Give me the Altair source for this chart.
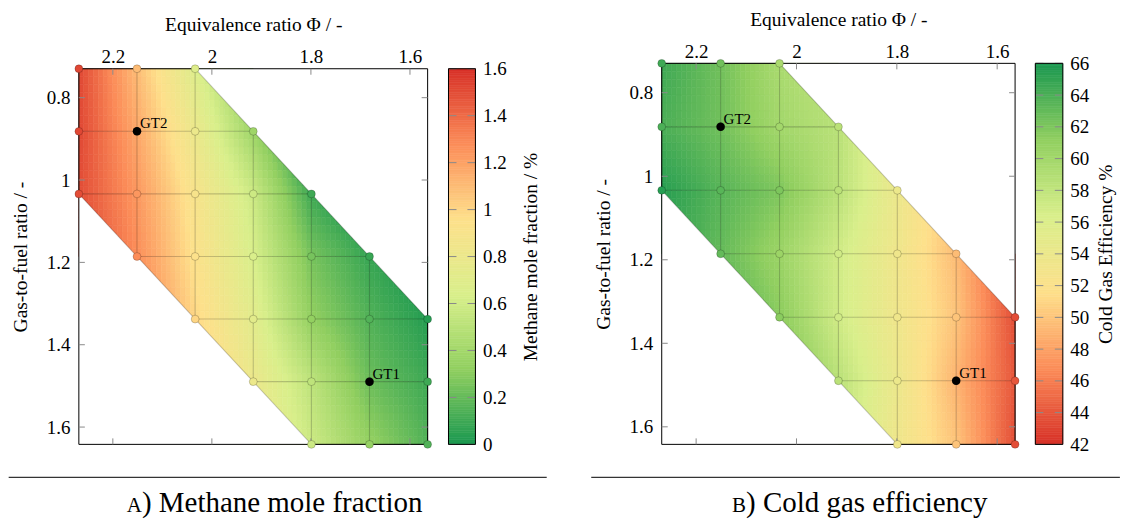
import altair as alt
import pandas as pd

# ---------------- data ----------------
PHI = [2.2686, 2.1512, 2.0338, 1.9164, 1.7990, 1.6817, 1.5643]   # equivalence ratio grid
GTF = [0.7297, 0.8817, 1.0337, 1.1857, 1.3377, 1.4897, 1.6420]   # gas-to-fuel ratio grid
N = None
CH4 = [  # methane mole fraction / %   rows = GTF, cols = PHI
    [1.52, 1.10, 0.68, N, N, N, N],
    [1.52, 1.18, 0.80, 0.38, N, N, N],
    [1.50, 1.24, 0.90, 0.58, 0.10, N, N],
    [N, 1.28, 0.94, 0.64, 0.25, 0.08, N],
    [N, N, 1.00, 0.72, 0.33, 0.15, 0.03],
    [N, N, N, 0.80, 0.52, 0.22, 0.10],
    [N, N, N, N, 0.58, 0.34, 0.15],
]
CGE = [  # cold gas efficiency / %
    [64.5, 62.5, 59.5, N, N, N, N],
    [64.0, 62.5, 60.0, 58.5, N, N, N],
    [65.5, 63.5, 62.0, 58.5, 54.0, N, N],
    [N, 63.0, 60.5, 57.0, 53.5, 49.5, N],
    [N, N, 61.5, 57.0, 53.5, 50.0, 43.5],
    [N, N, N, 58.5, 54.0, 49.0, 44.0],
    [N, N, N, N, 53.5, 50.0, 43.5],
]
GT_NAME = ["GT1", "GT2"]
GT_PHI = [1.6817, 2.1512]
GT_GTF = [1.4897, 0.8817]
X_TICKS = [2.2, 2.0, 1.8, 1.6]
Y_TICKS = [0.8, 1.0, 1.2, 1.4, 1.6]
CH4_TICKS = [0, 0.2, 0.4, 0.6, 0.8, 1.0, 1.2, 1.4, 1.6]
CGE_TICKS = [42, 44, 46, 48, 50, 52, 54, 56, 58, 60, 62, 64, 66]
RDYLGN = ["#d73027", "#fc8d59", "#fee08b", "#d9ef8b", "#91cf60", "#1a9850"]

FONT = "Liberation Serif"
NX, NY = 12, 8
H = 381.7


def cells_table(vals):
    rows = []
    n = len(PHI)
    for i in range(n - 1):
        for j in range(n - 1):
            c = [vals[i][j], vals[i][j + 1], vals[i + 1][j], vals[i + 1][j + 1]]
            if all(v is not None for v in c):
                kind = 0
            elif i - j == 2:
                kind = 1
            elif j - i == 2:
                kind = 2
            else:
                continue
            c = [0.0 if v is None else v for v in c]
            rows.append(dict(v00=c[0], v01=c[1], v10=c[2], v11=c[3], kind=kind,
                             x0=PHI[j], x1=PHI[j + 1], y0=GTF[i], y1=GTF[i + 1]))
    return pd.DataFrame(rows)


def points_table(vals):
    rows = []
    for i, g in enumerate(GTF):
        for j, p in enumerate(PHI):
            if vals[i][j] is not None:
                rows.append(dict(phi=p, gtf=g, v=vals[i][j]))
    return pd.DataFrame(rows)


def segments_table(vals):
    rows = []
    n = len(PHI)
    ok = lambda i, j: 0 <= i < n and 0 <= j < n and vals[i][j] is not None
    for i in range(n):
        for j in range(n):
            if not ok(i, j):
                continue
            for di, dj in [(0, 1), (1, 0), (1, 1)]:
                if ok(i + di, j + dj):
                    if (di, dj) == (1, 1) and abs(i - j) != 2:
                        continue
                    rows.append(dict(xa=PHI[j], ya=GTF[i], xb=PHI[j + dj], yb=GTF[i + di]))
    return pd.DataFrame(rows)


def panel(vals, cdom, crange, W, top, xlab_pad, xtitle_y, cap_small, cap_rest,
          cap_split, cap_x1, cap_x2, anchor=False):
    xs = alt.Scale(domain=[PHI[0], PHI[-1]], nice=False, zero=False)
    ys = alt.Scale(domain=[GTF[0], GTF[-1]], range=[top, H], nice=False, zero=False)
    cs = alt.Scale(domain=cdom, range=crange, interpolate="rgb", clamp=True)
    xaxis = alt.Axis(orient="top", values=X_TICKS, format="~g", domain=False, ticks=False,
                     tickSize=0, grid=False, labelPadding=xlab_pad, labelBaseline="middle",
                     title="Equivalence ratio Φ / -", titleY=xtitle_y, titleBaseline="middle")
    yaxis = alt.Axis(orient="left", values=Y_TICKS, format="~g", domain=False, ticks=False,
                     tickSize=0, grid=False, labelPadding=9,
                     title="Gas-to-fuel ratio / -", titleX=-58, titleY=(top + H) / 2,
                     titleBaseline="middle", titleAlign="center", titleAngle=270)

    def X(f):
        return alt.X(f, scale=xs, axis=xaxis)

    def Y(f):
        return alt.Y(f, scale=ys, axis=yaxis)

    raster = (
        alt.Chart(cells_table(vals))
        .transform_calculate(u=f"sequence(0,{NX})").transform_flatten(["u"])
        .transform_calculate(w=f"sequence(0,{NY})").transform_flatten(["w"])
        .transform_calculate(fx=f"(datum.u+0.5)/{NX}")
        .transform_calculate(fy=f"(datum.w+0.5)/{NY}")
        .transform_calculate(val=(
            "datum.kind==0 ? datum.v00*(1-datum.fx)*(1-datum.fy)+datum.v01*datum.fx*(1-datum.fy)"
            "+datum.v10*(1-datum.fx)*datum.fy+datum.v11*datum.fx*datum.fy"
            " : (datum.kind==1 ? datum.v00+(datum.v01-datum.v00)*datum.fx+(datum.v11-datum.v01)*datum.fy"
            " : datum.v00+(datum.v10-datum.v00)*datum.fy+(datum.v11-datum.v10)*datum.fx)"))
        .transform_calculate(xa=f"datum.x0+(datum.x1-datum.x0)*datum.u/{NX}")
        .transform_calculate(xb=f"datum.x0+(datum.x1-datum.x0)*(datum.u+1)/{NX}")
        .transform_calculate(ya=f"datum.y0+(datum.y1-datum.y0)*datum.w/{NY}")
        .transform_calculate(yb=f"datum.y0+(datum.y1-datum.y0)*(datum.w+1)/{NY}")
        .mark_rect(strokeWidth=0.6)
        .encode(
            x=X("xa:Q"), x2="xb:Q", y=Y("ya:Q"), y2="yb:Q",
            fill=alt.Fill("val:Q", scale=cs, legend=None),
            stroke=alt.Stroke("val:Q", scale=cs, legend=None),
        )
    )

    n = len(PHI)
    mask_df = pd.DataFrame([
        dict(m="tr", x=PHI[2], y=GTF[0], y2=GTF[0]),
        dict(m="tr", x=PHI[n - 1], y=GTF[4], y2=GTF[0]),
        dict(m="bl", x=PHI[0], y=GTF[2], y2=GTF[n - 1]),
        dict(m="bl", x=PHI[4], y=GTF[n - 1], y2=GTF[n - 1]),
    ])
    masks = alt.Chart(mask_df).mark_area(color="white", opacity=1).encode(
        x=X("x:Q"), y=Y("y:Q"), y2="y2:Q", detail="m:N")

    grid = alt.Chart(segments_table(vals)).mark_rule(
        color="black", strokeOpacity=0.2, strokeWidth=1.1).encode(
        x=X("xa:Q"), x2="xb:Q", y=Y("ya:Q"), y2="yb:Q")

    one = pd.DataFrame({"a": [0]})
    frame = alt.Chart(one).mark_rect(filled=False, stroke="black", strokeWidth=1).encode(
        x=alt.value(0), x2=alt.value(W), y=alt.value(top), y2=alt.value(H))

    xt = pd.DataFrame({"t": X_TICKS})
    yt = pd.DataFrame({"t": Y_TICKS})
    tick_style = dict(color="#8a8a8a", strokeWidth=1)
    ticks = [
        alt.Chart(xt).mark_rule(**tick_style).encode(
            x=X("t:Q"), y=alt.value(top), y2=alt.value(top + 6)),
        alt.Chart(xt).mark_rule(**tick_style).encode(
            x=X("t:Q"), y=alt.value(H), y2=alt.value(H - 6)),
        alt.Chart(yt).mark_rule(**tick_style).encode(
            y=Y("t:Q"), x=alt.value(0), x2=alt.value(6)),
        alt.Chart(yt).mark_rule(**tick_style).encode(
            y=Y("t:Q"), x=alt.value(W), x2=alt.value(W - 6)),
    ]

    pts = alt.Chart(points_table(vals)).mark_circle(
        size=62, opacity=1, stroke="black", strokeOpacity=0.25, strokeWidth=0.8).encode(
        x=X("phi:Q"), y=Y("gtf:Q"), fill=alt.Fill("v:Q", scale=cs, legend=None))

    gt_df = pd.DataFrame({"name": GT_NAME, "phi": GT_PHI, "gtf": GT_GTF})
    gt = alt.Chart(gt_df).mark_circle(size=72, color="black", opacity=1).encode(
        x=X("phi:Q"), y=Y("gtf:Q"))
    gt_lab = alt.Chart(gt_df).mark_text(
        align="left", baseline="middle", dx=3, dy=-8, font=FONT, fontSize=15, color="black"
    ).encode(x=X("phi:Q"), y=Y("gtf:Q"), text="name:N")

    cap_line = alt.Chart(one).mark_rule(color="black", strokeWidth=1).encode(
        x=alt.value(cap_x1), x2=alt.value(cap_x2), y=alt.value(414.7))
    cap_a = alt.Chart(one).mark_text(
        text=cap_small, align="right", baseline="alphabetic", font=FONT, fontSize=21,
        color="black").encode(x=alt.value(cap_split), y=alt.value(449.7))
    cap_b = alt.Chart(one).mark_text(
        text=cap_rest, align="left", baseline="alphabetic", font=FONT, fontSize=29,
        color="black").encode(x=alt.value(cap_split), y=alt.value(449.7))

    layers = [raster, masks, grid, frame] + ticks + [pts, gt, gt_lab, cap_line, cap_a, cap_b]
    if anchor:
        layers.append(alt.Chart(one).mark_rule(strokeOpacity=0, color="white").encode(
            x=alt.value(-78.3), x2=alt.value(1121 - 78.3),
            y=alt.value(-62.3), y2=alt.value(522 - 62.3)))
    return alt.layer(*layers).properties(width=W, height=H)


def colorbar(dmin, dmax, cdom, crange, ticks, title, W, top, title_x):
    nstep = 160
    step = (dmax - dmin) / nstep
    ys = alt.Scale(domain=[dmin, dmax], range=[H, top], nice=False, zero=False)
    cs = alt.Scale(domain=cdom, range=crange, interpolate="rgb", clamp=True)
    axis = alt.Axis(orient="right", values=ticks, format="~g", domain=False, ticks=False,
                    tickSize=0, grid=False, labelPadding=7, labelBaseline="middle",
                    title=title, titleAngle=270, titleX=title_x, titleY=(top + H) / 2,
                    titleBaseline="middle", titleAlign="center")
    bar = (
        alt.Chart(alt.sequence(0, nstep, as_="k"))
        .transform_calculate(lo=f"{dmin}+datum.k*{step}")
        .transform_calculate(hi=f"datum.lo+{step}")
        .transform_calculate(mid=f"datum.lo+{step / 2}")
        .mark_rect(strokeWidth=0.6)
        .encode(
            y=alt.Y("lo:Q", scale=ys, axis=axis), y2="hi:Q",
            x=alt.value(0), x2=alt.value(W),
            fill=alt.Fill("mid:Q", scale=cs, legend=None),
            stroke=alt.Stroke("mid:Q", scale=cs, legend=None),
        )
    )
    tdf = pd.DataFrame({"t": ticks})
    tl = alt.Chart(tdf).mark_rule(color="#8a8a8a", strokeWidth=1).encode(
        y=alt.Y("t:Q", scale=ys, axis=axis), x=alt.value(0), x2=alt.value(8))
    tr = alt.Chart(tdf).mark_rule(color="#8a8a8a", strokeWidth=1).encode(
        y=alt.Y("t:Q", scale=ys, axis=axis), x=alt.value(W - 8), x2=alt.value(W))
    one = pd.DataFrame({"a": [0]})
    frame = alt.Chart(one).mark_rect(filled=False, stroke="black", strokeWidth=1).encode(
        x=alt.value(0), x2=alt.value(W), y=alt.value(top), y2=alt.value(H))
    return alt.layer(bar, tl, tr, frame).properties(width=W, height=H)


ch4_dom = [0, 0.32, 0.64, 0.96, 1.28, 1.6]
ch4_rng = list(reversed(RDYLGN))
cge_dom = [42, 46.8, 51.6, 56.4, 61.2, 66]
cge_rng = RDYLGN

panelA = panel(CH4, ch4_dom, ch4_rng, 349.4, 5.4, 6.6, -38.6, "A",
               ") Methane mole fraction", 63.2, -70.3, 468.7, anchor=True)
cbarA = colorbar(0, 1.6, ch4_dom, ch4_rng, CH4_TICKS, "Methane mole fraction / %",
                 27, 5.4, 55)
spacer = alt.Chart(pd.DataFrame({"a": [0]})).mark_point(opacity=0).encode(
    x=alt.value(0), y=alt.value(0)).properties(width=145.4, height=H)
panelB = panel(CGE, cge_dom, cge_rng, 354, 0, 12, -44, "B",
               ") Cold gas efficiency", 84.5, -70.6, 459)
cbarB = colorbar(42, 66, cge_dom, cge_rng, CGE_TICKS, "Cold Gas Efficiency %",
                 27.5, 0, 42.5)

chart = (
    alt.hconcat(panelA, cbarA, spacer, panelB, cbarB, spacing=20.3, bounds="flush")
    .resolve_scale(x="independent", y="independent", fill="independent", stroke="independent")
    .properties(padding=0)
    .configure_view(strokeWidth=0)
    .configure_axis(labelFont=FONT, titleFont=FONT, labelFontSize=19, titleFontSize=19.5,
                    labelColor="black", titleColor="black", titleFontWeight="normal")
)

chart.save("out.html", embed_options={"renderer": "svg", "actions": False})
